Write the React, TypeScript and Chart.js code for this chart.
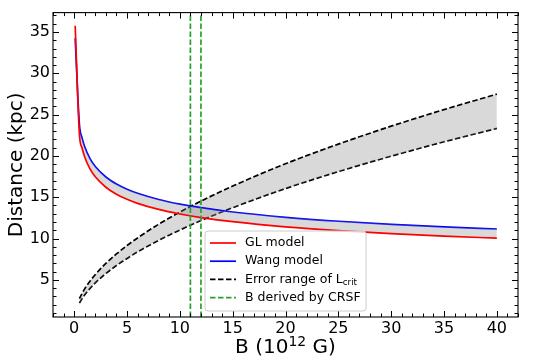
import React, { useEffect, useRef } from "react";
import { Chart, registerables } from "chart.js";

Chart.register(...registerables);

// Magnetic field B (10^12 G) sample points for the two distance models
const B_MODEL = [0.1, 0.5, 0.75, 1, 1.5, 2, 3, 4, 5, 6, 8, 10, 12, 15, 20, 25, 30, 35, 40];
const GL_DIST = [35.75, 22.59, 20.95, 19.87, 18.43, 17.47, 16.21, 15.37, 14.75, 14.26, 13.52, 12.97, 12.54, 12.04, 11.41, 10.95, 10.59, 10.29, 10.04];
const WANG_DIST = [34.25, 23.8, 22.19, 21.11, 19.68, 18.72, 17.45, 16.6, 15.97, 15.48, 14.73, 14.17, 13.73, 13.21, 12.57, 12.09, 11.72, 11.41, 11.15];

// Error range of L_crit
const B_LCRIT = [0.5, 0.75, 1, 1.5, 2, 3, 4, 5, 6, 8, 10, 12, 15, 20, 25, 30, 35, 40];
const LCRIT_UPPER = [2.71, 3.35, 3.91, 4.84, 5.63, 6.98, 8.13, 9.15, 10.07, 11.73, 13.2, 14.53, 16.35, 19.05, 21.43, 23.6, 25.61, 27.48];
const LCRIT_LOWER = [2.19, 2.72, 3.18, 3.96, 4.63, 5.76, 6.73, 7.59, 8.38, 9.78, 11.03, 12.18, 13.73, 16.05, 18.1, 19.97, 21.71, 23.33];

// B derived by CRSF
const B_CRSF = [11, 12];

const X_TICKS = [0, 5, 10, 15, 20, 25, 30, 35, 40];
const Y_TICKS = [5, 10, 15, 20, 25, 30, 35];

const LEGEND_LABELS = ["GL model", "Wang model", "Error range of L", "B derived by CRSF"];
const X_TITLE_PARTS = ["B (10", "12", " G)"];

const FONT = "'DejaVu Sans', sans-serif";
const FILL = "rgba(128,128,128,0.3)";
const GREEN = "#2ca02c";

const pts = (xs: number[], ys: number[]) => xs.map((x, i) => ({ x, y: ys[i] }));

const decorPlugin = {
  id: "decor",
  afterDatasetsDraw(chart: any) {
    const { ctx, chartArea: a, scales } = chart;
    const x = scales.x;
    const y = scales.y;
    ctx.save();
    // CRSF vertical lines
    ctx.strokeStyle = GREEN;
    ctx.lineWidth = 1.7;
    ctx.setLineDash([5.5, 2.5]);
    for (const b of B_CRSF) {
      const px = x.getPixelForValue(b);
      ctx.beginPath();
      ctx.moveTo(px, a.bottom);
      ctx.lineTo(px, a.top);
      ctx.stroke();
    }
    ctx.setLineDash([]);
    // inward ticks
    ctx.strokeStyle = "#000";
    ctx.lineWidth = 1;
    ctx.beginPath();
    for (let v = Math.ceil(x.min); v <= x.max; v++) {
      const len = v % 5 === 0 ? 6 : 3.5;
      const px = Math.round(x.getPixelForValue(v)) + 0.5;
      ctx.moveTo(px, a.bottom);
      ctx.lineTo(px, a.bottom - len);
      ctx.moveTo(px, a.top);
      ctx.lineTo(px, a.top + len);
    }
    for (let v = Math.ceil(y.min); v <= y.max; v++) {
      const len = v % 5 === 0 ? 6 : 3.5;
      const py = Math.round(y.getPixelForValue(v)) + 0.5;
      ctx.moveTo(a.left, py);
      ctx.lineTo(a.left + len, py);
      ctx.moveTo(a.right, py);
      ctx.lineTo(a.right - len, py);
    }
    ctx.stroke();
    // frame
    ctx.lineWidth = 1.1;
    ctx.strokeRect(a.left, a.top, a.right - a.left, a.bottom - a.top);
    ctx.restore();
  },
  afterDraw(chart: any) {
    const { ctx, chartArea: a } = chart;
    ctx.save();
    // x-axis title with superscript
    ctx.fillStyle = "#000";
    ctx.textBaseline = "alphabetic";
    ctx.textAlign = "left";
    const big = `20px ${FONT}`;
    const small = `14px ${FONT}`;
    ctx.font = big;
    const w0 = ctx.measureText(X_TITLE_PARTS[0]).width;
    const w2 = ctx.measureText(X_TITLE_PARTS[2]).width;
    ctx.font = small;
    const w1 = ctx.measureText(X_TITLE_PARTS[1]).width;
    const total = w0 + w1 + w2;
    let tx = (a.left + a.right) / 2 - total / 2;
    const base = 353;
    ctx.font = big;
    ctx.fillText(X_TITLE_PARTS[0], tx, base);
    tx += w0;
    ctx.font = small;
    ctx.fillText(X_TITLE_PARTS[1], tx, base - 7);
    tx += w1;
    ctx.font = big;
    ctx.fillText(X_TITLE_PARTS[2], tx, base);

    // legend
    const w = 161;
    const h = 80;
    const left = (a.left + a.right) / 2 - w / 2;
    const top = a.bottom - 6 - h;
    const r = 3;
    ctx.beginPath();
    ctx.moveTo(left + r, top);
    ctx.arcTo(left + w, top, left + w, top + h, r);
    ctx.arcTo(left + w, top + h, left, top + h, r);
    ctx.arcTo(left, top + h, left, top, r);
    ctx.arcTo(left, top, left + w, top, r);
    ctx.closePath();
    ctx.fillStyle = "rgba(255,255,255,0.8)";
    ctx.fill();
    ctx.strokeStyle = "#cccccc";
    ctx.lineWidth = 1;
    ctx.stroke();

    const styles = [
      { color: "#ff0000", dash: [] as number[] },
      { color: "#0000ff", dash: [] as number[] },
      { color: "#000000", dash: [5.5, 2.5] },
      { color: GREEN, dash: [5.5, 2.5] },
    ];
    const fs = 12.5;
    for (let i = 0; i < LEGEND_LABELS.length; i++) {
      const cy = top + 12 + i * 18.2;
      ctx.strokeStyle = styles[i].color;
      ctx.lineWidth = 1.7;
      ctx.setLineDash(styles[i].dash);
      ctx.beginPath();
      ctx.moveTo(left + 5, cy);
      ctx.lineTo(left + 31, cy);
      ctx.stroke();
      ctx.setLineDash([]);
      ctx.fillStyle = "#000";
      ctx.font = `${fs}px ${FONT}`;
      ctx.textBaseline = "middle";
      ctx.textAlign = "left";
      const lx = left + 40;
      ctx.fillText(LEGEND_LABELS[i], lx, cy);
      if (i === 2) {
        const tw = ctx.measureText(LEGEND_LABELS[i]).width;
        ctx.font = `${fs * 0.7}px ${FONT}`;
        ctx.fillText("crit", lx + tw, cy + 3.5);
      }
    }
    ctx.restore();
  },
};

export default function App() {
  const ref = useRef<HTMLCanvasElement | null>(null);
  useEffect(() => {
    document.body.style.margin = "0";
    const canvas = ref.current;
    if (!canvas) return;
    const lineBase = {
      pointRadius: 0,
      borderWidth: 1.7,
      cubicInterpolationMode: "monotone" as const,
    };
    const chart = new Chart(canvas, {
      type: "line",
      data: {
        datasets: [
          {
            ...lineBase,
            label: "GL model",
            data: pts(B_MODEL, GL_DIST),
            borderColor: "#ff0000",
            backgroundColor: FILL,
            fill: "+1",
          },
          {
            ...lineBase,
            label: "Wang model",
            data: pts(B_MODEL, WANG_DIST),
            borderColor: "#0000ff",
            fill: false,
          },
          {
            ...lineBase,
            label: "Error range upper",
            data: pts(B_LCRIT, LCRIT_UPPER),
            borderColor: "#000000",
            borderDash: [5.5, 2.5],
            backgroundColor: FILL,
            fill: "+1",
          },
          {
            ...lineBase,
            label: "Error range lower",
            data: pts(B_LCRIT, LCRIT_LOWER),
            borderColor: "#000000",
            borderDash: [5.5, 2.5],
            fill: false,
          },
        ],
      },
      options: {
        responsive: false,
        animation: false,
        devicePixelRatio: 1,
        layout: { padding: { top: 7, right: 22, left: 0, bottom: 0 } },
        plugins: { legend: { display: false }, tooltip: { enabled: false } },
        scales: {
          x: {
            type: "linear",
            min: -2,
            max: 42,
            grid: { display: false, drawTicks: false },
            border: { display: false },
            afterBuildTicks: (s: any) => {
              s.ticks = X_TICKS.map((v) => ({ value: v }));
            },
            afterFit: (s: any) => {
              s.height = 43;
            },
            ticks: {
              color: "#000",
              font: { family: FONT, size: 16 },
              padding: 2,
              maxRotation: 0,
              autoSkip: false,
            },
            title: { display: false },
          },
          y: {
            type: "linear",
            min: 0.5,
            max: 37.35,
            grid: { display: false, drawTicks: false },
            border: { display: false },
            afterBuildTicks: (s: any) => {
              s.ticks = Y_TICKS.map((v) => ({ value: v }));
            },
            afterFit: (s: any) => {
              s.width = 53;
            },
            ticks: {
              color: "#000",
              font: { family: FONT, size: 16 },
              padding: 3,
              autoSkip: false,
            },
            title: {
              display: true,
              text: "Distance (kpc)",
              color: "#000",
              font: { family: FONT, size: 20 },
              padding: { top: 5, bottom: 0 },
            },
          },
        },
      },
      plugins: [decorPlugin],
    });
    return () => chart.destroy();
  }, []);
  return (
    <div style={{ width: 540, height: 360 }}>
      <canvas ref={ref} width={540} height={360} style={{ display: "block" }} />
    </div>
  );
}
